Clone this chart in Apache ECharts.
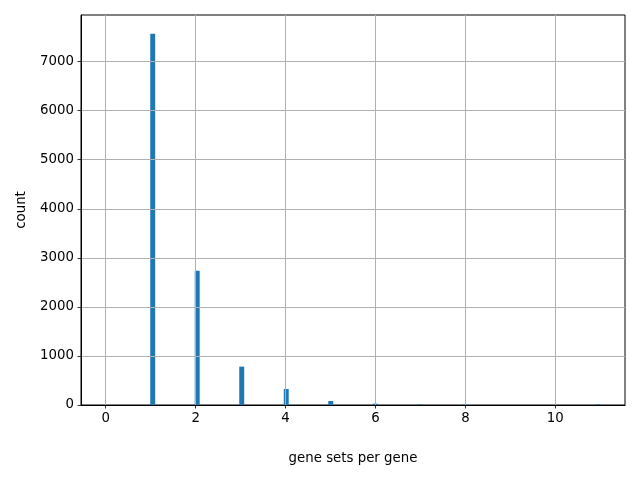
<!DOCTYPE html>
<html><head><meta charset="utf-8">
<script src="https://cdn.jsdelivr.net/npm/echarts@6/dist/echarts.min.js"></script>
<style>html,body{margin:0;padding:0;background:#fff}#c{width:640px;height:480px}</style>
</head><body><div id="c"></div>
<script>
// histogram bins (left edge, right edge) and counts, 100 bins over [0, 11]
const binWidth = 0.11;
const binLeft = [0, 0.99, 1.98, 2.97, 3.96, 4.95, 5.94, 6.93, 7.92, 10.89];
const counts  = [2, 7570, 2735, 782, 327, 82, 27, 12, 10, 14];
const xTicks = [0, 2, 4, 6, 8, 10];
const yTicks = [0, 1000, 2000, 3000, 4000, 5000, 6000, 7000];
const xLabel = 'gene sets per gene';
const yLabel = 'count';

const data = binLeft.map((l, i) => [l, l + binWidth, counts[i]]);
const font = 'DejaVu Sans';
const fs = 13.33;
const chart = echarts.init(document.getElementById('c'), null, {renderer: 'canvas'});
chart.setOption({
  animation: false,
  textStyle: {fontFamily: font},
  grid: {left: 81, right: 15, top: 15, bottom: 75, show: true, borderColor: '#000', borderWidth: 1, containLabel: false},
  xAxis: {
    type: 'value', min: -0.55, max: 11.55, interval: 2, z: 10,
    name: xLabel, nameLocation: 'middle', nameGap: 47,
    nameTextStyle: {color: '#000', fontSize: fs, fontFamily: font},
    axisLine: {show: true, onZero: false, lineStyle: {color: '#000', width: 1}},
    axisTick: {show: true, length: 3.5, lineStyle: {color: '#000', width: 0.8}, customValues: xTicks},
    axisLabel: {color: '#000', fontSize: fs, fontFamily: font, margin: 7, customValues: xTicks,
      formatter: v => String(v)},
    splitLine: {show: true, lineStyle: {color: '#b0b0b0', width: 1}}
  },
  yAxis: {
    type: 'value', min: 0, max: 7950, z: 10,
    name: yLabel, nameLocation: 'middle', nameGap: 53, nameRotate: 90,
    nameTextStyle: {color: '#000', fontSize: fs, fontFamily: font},
    axisLine: {show: true, onZero: false, lineStyle: {color: '#000', width: 1}},
    axisTick: {show: true, length: 3.5, lineStyle: {color: '#000', width: 0.8}, customValues: yTicks},
    axisLabel: {color: '#000', fontSize: fs, fontFamily: font, margin: 7, customValues: yTicks,
      formatter: v => String(v)},
    splitLine: {show: true, lineStyle: {color: '#b0b0b0', width: 1}}
  },
  series: [{
    type: 'custom', z: 2,
    encode: {x: [0, 1], y: 2},
    data: data,
    renderItem: function (params, api) {
      const p0 = api.coord([api.value(0), 0]);
      const p1 = api.coord([api.value(1), api.value(2)]);
      return {type: 'rect', shape: {x: p0[0], y: p1[1], width: p1[0] - p0[0], height: p0[1] - p1[1]},
        style: {fill: '#1f77b4'}};
    }
  }]
});
</script></body></html>
